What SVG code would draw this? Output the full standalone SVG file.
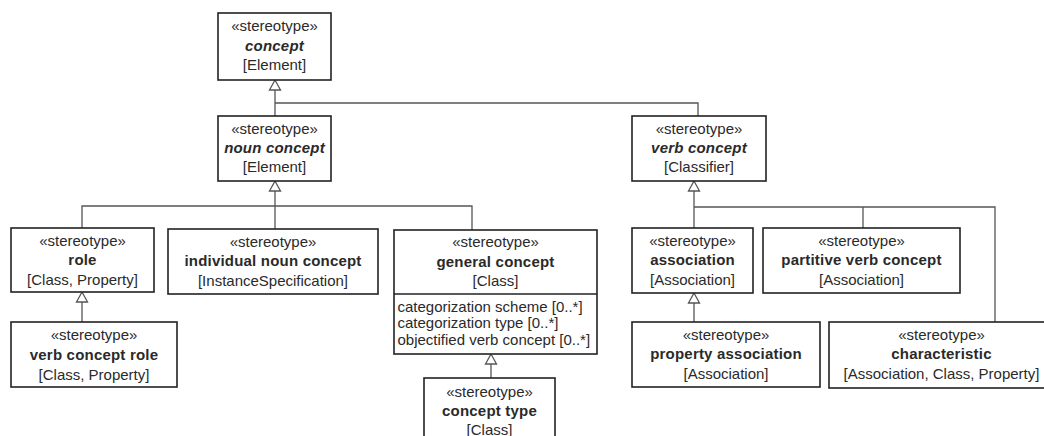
<svg xmlns="http://www.w3.org/2000/svg" width="1044" height="436" viewBox="0 0 1044 436">
<style>
  text { font-family: "Liberation Sans", Arial, sans-serif; font-size: 15px; fill: #2a2a2a; text-anchor: middle; }
  .nm { font-weight: bold; letter-spacing: 0.2px; }
  .ab { font-weight: bold; font-style: italic; letter-spacing: 0.2px; }
  .attr { text-anchor: start; }
  .box { fill: #ffffff; stroke: #222222; stroke-width: 1.6; }
  .sep { stroke: #222222; stroke-width: 1.4; }
  .ln { fill: none; stroke: #555555; stroke-width: 1.3; }
  .tri { fill: #ffffff; stroke: #555555; stroke-width: 1.3; }
</style>
<defs>
  <polygon id="gen" class="tri" points="0,0 -5.5,10 5.5,10"/>
</defs>
<rect width="1044" height="436" fill="#ffffff"/>

<g id="connectors">
  <polyline class="ln" points="275,90 275,116"/>
  <polyline class="ln" points="275,103 698,103 698,116"/>
  <use href="#gen" x="275" y="80"/>
  <polyline class="ln" points="275,191 275,229"/>
  <polyline class="ln" points="82,228 82,206 472,206 472,230"/>
  <use href="#gen" x="275" y="181"/>
  <polyline class="ln" points="82,302 82,322"/>
  <use href="#gen" x="82" y="292"/>
  <polyline class="ln" points="491,364 491,378"/>
  <use href="#gen" x="491" y="354"/>
  <polyline class="ln" points="694,191 694,228"/>
  <polyline class="ln" points="694,207 995,207 995,322"/>
  <polyline class="ln" points="863,207 863,228"/>
  <use href="#gen" x="694" y="181"/>
  <polyline class="ln" points="694,303 694,322"/>
  <use href="#gen" x="694" y="293"/>
</g>

<g id="concept">
  <rect class="box" x="218" y="13" width="113" height="67"/>
  <text x="274.5" y="31">«stereotype»</text>
  <text class="ab" x="274.5" y="51">concept</text>
  <text x="274.5" y="70">[Element]</text>
</g>

<g id="noun-concept">
  <rect class="box" x="218" y="116" width="113" height="65"/>
  <text x="274.5" y="134">«stereotype»</text>
  <text class="ab" x="274.5" y="153">noun concept</text>
  <text x="274.5" y="172">[Element]</text>
</g>

<g id="verb-concept">
  <rect class="box" x="632" y="116" width="134" height="65"/>
  <text x="699" y="134">«stereotype»</text>
  <text class="ab" x="699" y="153">verb concept</text>
  <text x="699" y="172">[Classifier]</text>
</g>

<g id="role">
  <rect class="box" x="11" y="228" width="143" height="64"/>
  <text x="82.5" y="246">«stereotype»</text>
  <text class="nm" x="82.5" y="265">role</text>
  <text x="82.5" y="285">[Class, Property]</text>
</g>

<g id="individual-noun-concept">
  <rect class="box" x="168" y="229" width="210" height="65"/>
  <text x="273" y="247">«stereotype»</text>
  <text class="nm" x="273" y="266">individual noun concept</text>
  <text x="273" y="286">[InstanceSpecification]</text>
</g>

<g id="general-concept">
  <rect class="box" x="394" y="230" width="203" height="124"/>
  <line class="sep" x1="394" y1="294" x2="597" y2="294"/>
  <text x="495.5" y="247">«stereotype»</text>
  <text class="nm" x="495.5" y="267">general concept</text>
  <text x="495.5" y="286">[Class]</text>
  <text class="attr" x="397.5" y="311.5">categorization scheme [0..*]</text>
  <text class="attr" x="397.5" y="328">categorization type [0..*]</text>
  <text class="attr" x="397.5" y="344.5">objectified verb concept [0..*]</text>
</g>

<g id="concept-type">
  <rect class="box" x="424" y="378" width="131" height="70"/>
  <text x="489.5" y="397">«stereotype»</text>
  <text class="nm" x="489.5" y="416">concept type</text>
  <text x="489.5" y="435">[Class]</text>
</g>

<g id="verb-concept-role">
  <rect class="box" x="11" y="322" width="166" height="65"/>
  <text x="94" y="340">«stereotype»</text>
  <text class="nm" x="94" y="360">verb concept role</text>
  <text x="94" y="380">[Class, Property]</text>
</g>

<g id="association">
  <rect class="box" x="632" y="228" width="121" height="65"/>
  <text x="692.5" y="246">«stereotype»</text>
  <text class="nm" x="692.5" y="265">association</text>
  <text x="692.5" y="285">[Association]</text>
</g>

<g id="partitive-verb-concept">
  <rect class="box" x="763" y="228" width="197" height="65"/>
  <text x="861.5" y="246">«stereotype»</text>
  <text class="nm" x="861.5" y="265">partitive verb concept</text>
  <text x="861.5" y="285">[Association]</text>
</g>

<g id="property-association">
  <rect class="box" x="632" y="322" width="188" height="65"/>
  <text x="726" y="340">«stereotype»</text>
  <text class="nm" x="726" y="359">property association</text>
  <text x="726" y="379">[Association]</text>
</g>

<g id="characteristic">
  <rect class="box" x="829" y="322" width="225" height="66"/>
  <text x="941.5" y="340">«stereotype»</text>
  <text class="nm" x="941.5" y="359">characteristic</text>
  <text x="941.5" y="379">[Association, Class, Property]</text>
</g>
</svg>
